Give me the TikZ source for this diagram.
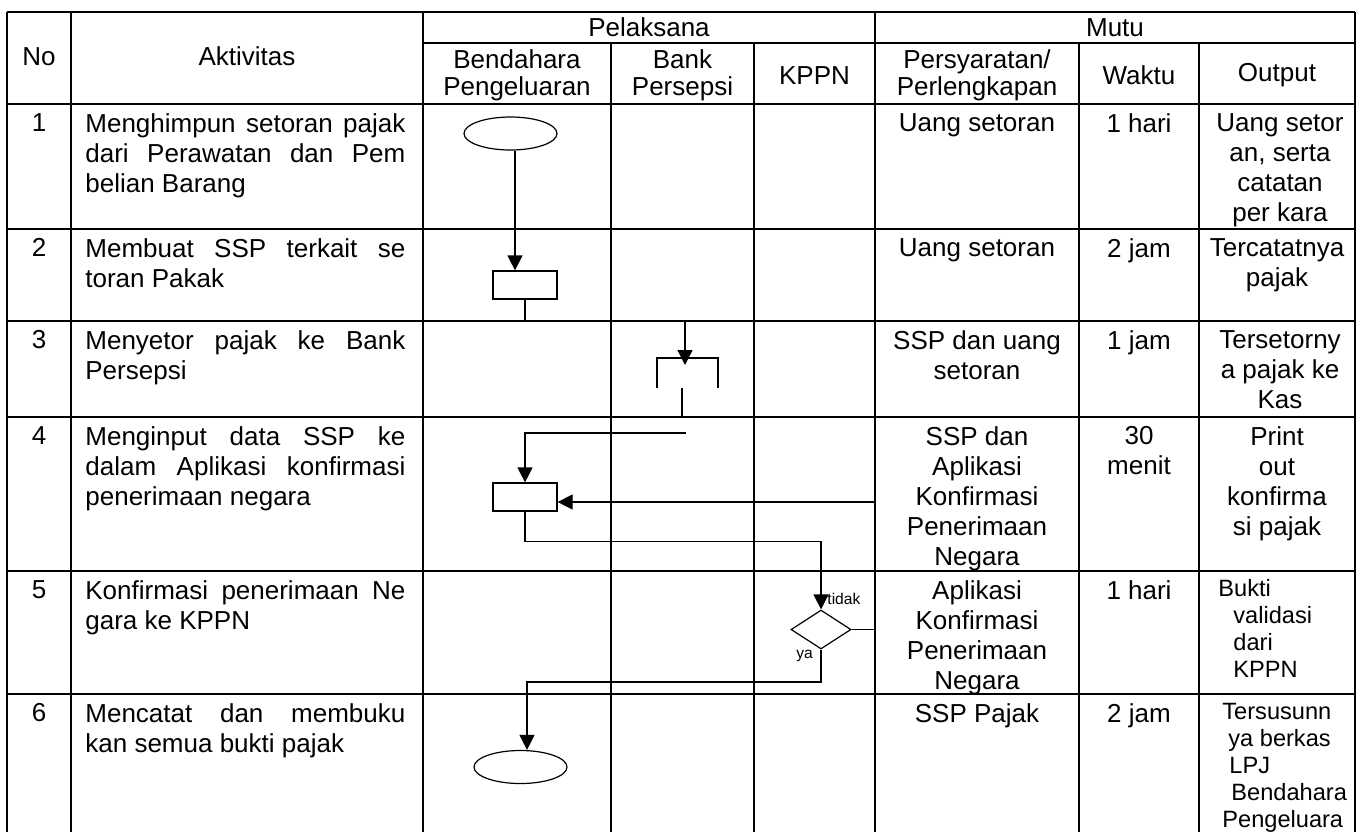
\documentclass[tikz,border=0pt]{standalone}
\usepackage{fontspec}
\setmainfont{Liberation Sans}
\usetikzlibrary{shapes.geometric,arrows.meta}
\setlength{\parindent}{0pt}
\tikzset{
  arr/.style={-{Triangle[length=7.5pt,width=7.5pt]},line width=0.6pt},
  teks/.style={font=\fontsize{13}{15}\selectfont}
}
\begin{document}
\begin{tikzpicture}[x=0.5pt,y=-0.5pt]
\useasboundingbox (0,0) rectangle (1363,832);
% table lines
\begin{scope}[line width=0.9pt]
  \draw (7,12) -- (1355,12);
  \draw (423,43) -- (1355,43);
  \foreach \y in {104,229,321,417,571,694}
    \draw (7,\y) -- (1355,\y);
  \foreach \x in {7,71,423,875,1355}
    \draw (\x,12) -- (\x,832);
  \foreach \x in {611,754,1079,1199}
    \draw (\x,43) -- (\x,832);
\end{scope}
% header
\begin{scope}[every node/.style={align=center,inner sep=0pt,font=\fontsize{13}{13.5}\selectfont}]
  \node (pel) at (649,27.5) {Pelaksana};
  \node (mutu) at (1115,27.5) {Mutu};
  \node (no) at (39,56.5) {No};
  \node (akt) at (247,56.5) {Aktivitas};
  \node (bend) at (517,75.5) {Bendahara\\Pengeluaran};
  \node (bank) at (682.5,75.5) {Bank\\Persepsi};
  \node (kppn) at (814.5,75.5) {KPPN};
  \node (syarat) at (977,75.5) {Persyaratan/\\Perlengkapan};
  \node (waktu) at (1139,75.5) {Waktu};
  \node (output) at (1277,75.5) {Output};
\end{scope}
% aktivitas
\begin{scope}[every node/.style={teks,anchor=north west,inner sep=0pt,text width=160pt,align=justify}]
  \node (a1) at (85,113) {Menghimpun setoran pajak\linebreak dari Perawatan dan Pem\linebreak belian Barang};
  \node (a2) at (85,238) {Membuat SSP terkait se\linebreak toran Pakak};
  \node (a3) at (85,330) {Menyetor pajak ke Bank\linebreak Persepsi};
  \node (a4) at (85,426) {Menginput data SSP ke\linebreak dalam Aplikasi konfirmasi\linebreak penerimaan negara};
  \node (a5) at (85,580) {Konfirmasi penerimaan Ne\linebreak gara ke KPPN};
  \node (a6) at (85,703) {Mencatat dan membuku\linebreak kan semua bukti pajak};
\end{scope}
% no, persyaratan, waktu, output
\begin{scope}[every node/.style={teks,anchor=north,align=center,inner sep=0pt}]
  \node (n1) at (39,113) {1};
  \node (n2) at (39,238) {2};
  \node (n3) at (39,330) {3};
  \node (n4) at (39,426) {4};
  \node (n5) at (39,580) {5};
  \node (n6) at (39,703) {6};
  \node (s1) at (977,113) {Uang setoran};
  \node (s2) at (977,238) {Uang setoran};
  \node (s3) at (977,330) {SSP dan uang\\setoran};
  \node (s4) at (977,426) {SSP dan\\Aplikasi\\Konfirmasi\\Penerimaan\\Negara};
  \node (s5) at (977,580) {Aplikasi\\Konfirmasi\\Penerimaan\\Negara};
  \node (s6) at (977,703) {SSP Pajak};
  \node (w1) at (1139,113) {1 hari};
  \node (w2) at (1139,238) {2 jam};
  \node (w3) at (1139,330) {1 jam};
  \node (w4) at (1139,426) {30\\menit};
  \node (w5) at (1139,580) {1 hari};
  \node (w6) at (1139,703) {2 jam};
  \node (o1) at (1280,113) {Uang setor\\an, serta\\catatan\\per kara};
  \node (o2) at (1277,238) {Tercatatnya\\pajak};
  \node (o3) at (1280,330) {Tersetorny\\a pajak ke\\Kas};
  \node (o4) at (1277,426) {Print\\out\\konfirma\\si pajak};
\end{scope}
\begin{scope}[every node/.style={anchor=north west,align=left,inner sep=0pt,font=\fontsize{11.8}{13.5}\selectfont}]
  \node (o5) at (1218,579) {Bukti\\\hspace*{7.5pt}validasi\\\hspace*{7.5pt}dari\\\hspace*{7.5pt}KPPN};
  \node (o6) at (1222,703) {Tersusunn\\\hspace*{3pt}ya berkas\\\hspace*{3.5pt}LPJ\\\hspace*{4.5pt}Bendahara\\Pengeluara};
\end{scope}
% flow
\begin{scope}[every node/.style={draw,line width=0.6pt,inner sep=0pt}]
  \node[ellipse,minimum width=46.5pt,minimum height=16.5pt] (mulai) at (510.5,133.5) {};
  \node[rectangle,minimum width=32pt,minimum height=14pt] (catat) at (525,285) {};
  \node[rectangle,minimum width=32pt,minimum height=14pt] (input) at (525,497) {};
  \node[diamond,minimum width=30pt,minimum height=19.5pt] (cek) at (821,629.5) {};
  \node[ellipse,minimum width=46.5pt,minimum height=16.5pt] (selesai) at (520.5,767) {};
\end{scope}
\draw[line width=0.6pt] (657,388) |- (718,358) -- (718,388);
\coordinate (x1) at (515,0);
\coordinate (t3) at (685,321);
\coordinate (b3) at (685,365);
\coordinate (k1) at (682,388);
\coordinate (k2) at (682,417);
\coordinate (k3) at (686,433);
\coordinate (r1) at (875,502);
\coordinate (y6) at (527,682);
\draw[arr] (mulai.south -| x1) -- (catat.north -| x1);
\draw[arr] (catat.south) |- (t3) -- (b3);
\draw[line width=0.6pt] (k1) -- (k2);
\draw[arr] (k3) -| (input.north);
\draw[arr] (input.south) -- ++(0,30) -| (cek.north);
\draw[arr] (cek.east) -| (r1) -- (input.east |- r1);
\draw[arr] (cek.south) |- (y6) -- (selesai.north -| y6);
\node[font=\fontsize{7.8}{9}\selectfont,anchor=west,inner sep=0pt] (tidak) at (827,599) {tidak};
\node[font=\fontsize{7.8}{9}\selectfont,anchor=base west,inner sep=0pt] (ya) at (796,658) {ya};
\end{tikzpicture}
\end{document}
